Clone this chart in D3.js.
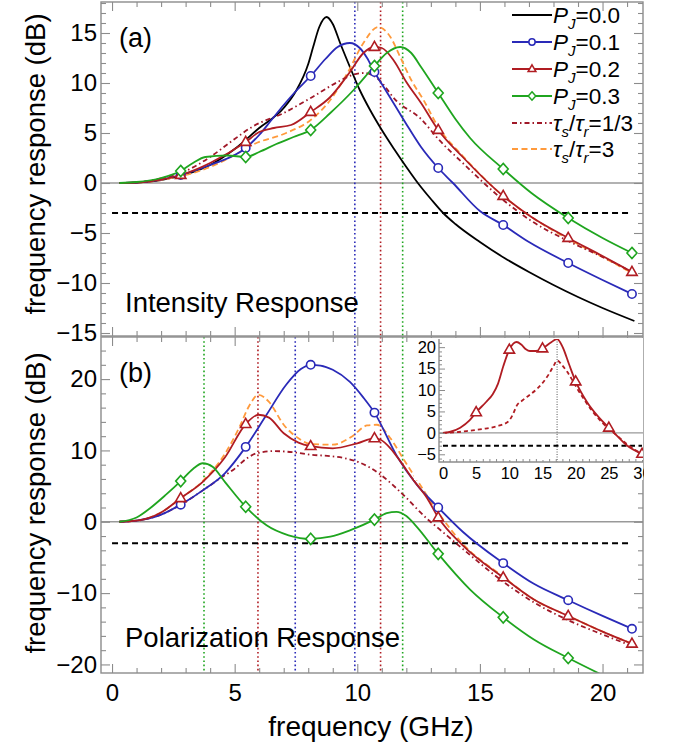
<!DOCTYPE html>
<html><head><meta charset="utf-8">
<script src="https://cdn.jsdelivr.net/npm/d3@7"></script>
<style>body{margin:0;background:#fff;} svg{display:block;}</style>
</head><body><svg id="c" width="673" height="746"></svg>
<script>
// ---------------- DATA ----------------
// (a) Intensity response, [frequency GHz, dB]
const intP00 = [[0.3,0],[1,0.05],[2,0.3],[3,0.85],[4,1.8],[5,3.4],[6,5.5],[7,7.5],[7.5,9.2],[8,11.9],[8.2,13.6],[8.45,15.6],[8.75,16.6],[9.0,15.9],[9.3,14.0],[9.7,11.6],[10.1,9.3],[10.5,7.4],[11,5.3],[11.5,3.4],[12,1.6],[12.5,-0.1],[13,-1.6],[13.5,-3.0],[14,-4.1],[15,-5.9],[16,-7.5],[17,-8.9],[18,-10.2],[19,-11.4],[20,-12.5],[21.3,-13.8]];
const intP01 = [[0.3,0],[1,0.05],[2,0.35],[2.8,0.8],[4,1.8],[5.45,3.5],[6,4.8],[6.5,6.3],[7,7.8],[7.5,9.2],[8.1,10.7],[8.7,12.4],[9.2,13.6],[9.7,14.0],[10.1,13.5],[10.4,12.5],[10.7,11.1],[11.1,9.5],[11.6,7.5],[12.1,5.5],[12.6,3.6],[13.3,1.5],[13.9,0],[15,-2.8],[15.95,-4.2],[17,-5.9],[18.6,-8.0],[20,-9.7],[21.2,-11.1]];
const intP02 = [[0.3,0],[1,0.05],[2,0.35],[2.8,0.8],[4,2.0],[5.45,4.1],[6,5.1],[6.6,5.5],[7.3,5.8],[8.1,7.1],[8.9,8.6],[9.7,11.1],[10.25,13.0],[10.7,13.6],[11.0,13.5],[11.5,12.2],[12.0,10.1],[12.6,8.0],[13.3,5.3],[14.3,2.6],[15.95,-1.3],[17.1,-3.4],[18.6,-5.5],[20,-7.3],[21.2,-8.9]];
const intP03 = [[0.3,0],[1,0.1],[2,0.5],[2.8,1.2],[3.3,2.0],[3.8,2.6],[4.7,2.75],[5.45,2.6],[6.0,3.1],[6.7,3.9],[7.4,4.6],[8.1,5.3],[8.9,7.0],[9.85,9.3],[10.7,11.7],[11.2,13.0],[11.75,13.6],[12.2,13.0],[12.6,11.6],[13.3,9.0],[14.0,6.4],[14.6,4.5],[15.95,1.4],[17.1,-1.0],[18.6,-3.5],[20,-5.5],[21.2,-7.0]];
const intTau13 = [[0.3,0],[1,0.06],[2,0.45],[3,1.2],[4,2.6],[5,4.4],[5.7,5.6],[7,7.0],[8.1,8.5],[9.2,10.1],[9.8,10.8],[10.3,11.0],[10.8,10.5],[11.6,8.2],[12.6,6.4],[13.3,4.4],[14.3,2.0],[15.95,-1.7],[17.1,-3.8],[18.6,-5.8],[20,-7.4],[21.2,-8.9]];
const intTau3 = [[0.3,0],[1,0.04],[2,0.3],[3,0.8],[4,1.6],[5,2.8],[5.8,3.9],[7.1,5.0],[8.1,6.3],[8.9,8.3],[9.6,11],[10.25,14],[10.85,15.6],[11.35,14.6],[11.75,12.6],[12.2,10.3],[12.7,8.3],[13.3,5.6],[14.3,2.7],[15.95,-1.3],[17.1,-3.4],[18.6,-5.6],[20,-7.4],[21.2,-9.0]];
const intMarkers = [2.8,5.45,8.1,10.7,13.3,15.95,18.6,21.2];
const intVLines = [[9.9,"blue"],[10.95,"red"],[11.85,"green"]];

// (b) Polarization response, [frequency GHz, dB]
const polP01 = [[0.3,0],[1,0.15],[2,1.0],[2.8,2.4],[3.7,4.4],[4.6,6.8],[5.45,10.5],[6.3,15.0],[7.1,19.2],[7.7,21.4],[8.1,22.0],[8.5,21.9],[9.0,21.3],[9.7,19.6],[10.25,17.4],[10.7,15.3],[11.6,9.3],[12.45,5.1],[13.3,2.0],[14.3,-1.4],[15.95,-5.8],[17.2,-8.7],[18.6,-11.0],[20,-13.2],[21.2,-15.0]];
const polP02 = [[0.3,0],[1,0.15],[2,1.3],[2.8,3.3],[3.7,5.6],[4.6,9.0],[5.45,13.7],[5.97,15.0],[6.4,14.6],[7,12.4],[7.6,11.1],[8.1,10.6],[9.0,10.3],[10.0,11.0],[10.7,11.7],[10.95,11.5],[11.35,10.3],[11.75,8.5],[12.3,5.8],[12.85,3.3],[13.3,0.6],[14.3,-3.3],[15.95,-7.8],[17.2,-10.9],[18.6,-13.2],[20,-15.4],[21.2,-17.1]];
const polP03 = [[0.3,0],[1,0.6],[1.55,1.9],[2.2,3.8],[2.8,5.7],[3.3,7.4],[3.7,8.2],[4.1,7.7],[4.6,5.6],[5.45,2.1],[6.3,-0.5],[7.2,-1.9],[8.1,-2.4],[8.9,-2.1],[9.7,-1.2],[10.7,0.3],[11.2,1.2],[11.6,1.4],[12.0,0.8],[12.4,-0.6],[13.3,-4.5],[14.6,-9.5],[15.95,-13.4],[17.2,-16.5],[18.6,-19.1],[20,-21.5],[20.6,-22.5]];
const polTau13 = [[0.3,0],[1,0.15],[2,1.0],[2.8,2.4],[3.7,4.4],[4.5,6.3],[4.95,7.3],[5.5,8.9],[5.9,9.6],[6.6,9.9],[7.5,9.7],[8.1,9.4],[8.9,9.2],[9.5,8.9],[10.1,8.3],[10.95,6.6],[11.75,4.2],[12.85,0.4],[13.3,-0.9],[14.3,-3.8],[15.95,-8.4],[17.2,-11.3],[18.6,-13.8],[20,-15.8],[21.2,-17.4]];
const polTau3 = [[0.3,0],[1,0.15],[2,1.3],[2.8,3.3],[3.7,5.7],[4.6,9.5],[5.2,13.3],[5.6,16.3],[5.97,17.8],[6.4,16.8],[7,13.6],[7.6,11.7],[8.1,10.9],[9.0,10.8],[9.8,12.0],[10.4,13.5],[10.8,13.6],[11.35,11.7],[11.9,8.7],[12.5,5.5],[13.3,1.3],[14.3,-3.1],[15.95,-7.7],[17.2,-10.9],[18.6,-13.2],[20,-15.4],[21.2,-17.1]];
const polMarkers = [2.8,5.45,8.1,10.7,13.3,15.95,18.6,21.2];
const polVLines = [[3.75,"green"],[5.95,"red"],[7.47,"blue"],[9.9,"blue"],[10.95,"red"],[11.85,"green"]];

// inset (frequency, dB)
const insetSolid = [[0,0],[1,0.2],[2.6,1.2],[4,2.9],[5,4.8],[6.5,7.2],[7.5,9.0],[8.3,11.5],[9.1,15.6],[10,19.4],[10.6,20.8],[11.1,21.2],[11.8,20.6],[12.5,19.5],[13.1,19.1],[14,19.1],[15,19.7],[16.2,21.0],[17.2,21.9],[18.1,19.8],[19.0,16.0],[20,12.0],[21.7,7.2],[23.5,3.6],[25,1.2],[26.5,-1.1],[27.7,-2.9],[30,-4.9]];
const insetDashed = [[0,0],[2,0.15],[4,0.5],[6,0.9],[8,1.5],[9.8,2.6],[10.5,4.2],[11.1,6.3],[12,7.6],[13.1,8.9],[14.2,10.3],[15.1,11.8],[16,13.8],[16.7,15.7],[17.2,16.9],[18,15.7],[18.7,14.3],[19.5,12.3],[20.2,10.4],[21.4,7.5],[22.6,4.9],[24,2.4],[25.6,0.2],[26.5,-1.0],[27.7,-2.6],[30,-4.9]];
const insetMarkers = [5,10,15,20,25,30];
const insetVLine = 17.2;

const threeDB = -3;
const legendLabels = [["P","J","=0.0"],["P","J","=0.1"],["P","J","=0.2"],["P","J","=0.3"],["τ","s","/","τ","r","=1/3"],["τ","s","/","τ","r","=3"]];

// ---------------- STYLE ----------------
const FONT = '"Liberation Sans", Arial, Helvetica, sans-serif';
const COL = {black:"#000000", blue:"#2a2ab8", red:"#b01c22", green:"#1fa51f", orange:"#ff9a3c", dd:"#a01828", frame:"#8c8c8c"};
const svg = d3.select("#c").attr("font-family", FONT);
const L = 101, R = 643;
const x = d3.scaleLinear().domain([-0.45, 21.65]).range([L, R]);
const yTop = d3.scaleLinear().domain([-15.3, 18.1]).range([336, 2]);
const yBot = d3.scaleLinear().domain([-21.2, 25.9]).range([673, 337]);

const seriesStyle = {
  P00:{color:COL.black, dash:null, marker:null},
  P01:{color:COL.blue, dash:null, marker:"circle"},
  P02:{color:COL.red, dash:null, marker:"triangle"},
  P03:{color:COL.green, dash:null, marker:"diamond"},
  T13:{color:COL.dd, dash:"5,3,1.5,3", marker:null},
  T3:{color:COL.orange, dash:"6,3.5", marker:null}
};

function markerPath(type, s){
  s = s || 1;
  if(type==="circle") return d3.symbol().type(d3.symbolCircle).size(55*s*s)();
  if(type==="triangle") return `M0,${-5.6*s}L${5.2*s},${3.4*s}L${-5.2*s},${3.4*s}Z`;
  if(type==="diamond") return `M0,${-5.6*s}L${5*s},0L0,${5.6*s}L${-5*s},0Z`;
  return null;
}

function panel(name, yS, y0, y1, series, markers, vlines, yMaj, yMin, showX){
  const cid = "clip"+name;
  svg.append("clipPath").attr("id",cid).append("rect").attr("x",L).attr("y",y0).attr("width",R-L).attr("height",y1-y0);
  const g = svg.append("g").attr("clip-path",`url(#${cid})`);
  g.append("line").attr("x1",L).attr("x2",R).attr("y1",yS(0)).attr("y2",yS(0)).attr("stroke","#999").attr("stroke-width",1.4);
  vlines.forEach(([f,c])=>{
    g.append("line").attr("x1",x(f)).attr("x2",x(f)).attr("y1",y0).attr("y2",y1)
      .attr("stroke",COL[c]).attr("stroke-width",1.6).attr("stroke-dasharray","1.6,2.6");
  });
  g.append("line").attr("x1",x(0)).attr("x2",x(21.2)).attr("y1",yS(threeDB)).attr("y2",yS(threeDB))
    .attr("stroke","#000").attr("stroke-width",2).attr("stroke-dasharray","6,4");
  const line = d3.line().x(d=>x(d[0])).y(d=>yS(d[1])).curve(d3.curveMonotoneX);
  series.forEach(([key,data])=>{
    const st = seriesStyle[key];
    g.append("path").datum(data).attr("d",line).attr("fill","none").attr("stroke",st.color)
      .attr("stroke-width",1.8).attr("stroke-dasharray",st.dash);
  });
  series.forEach(([key,data])=>{
    const st = seriesStyle[key];
    if(!st.marker) return;
    data.filter(d=>markers.includes(d[0])).forEach(d=>{
      g.append("path").attr("d",markerPath(st.marker)).attr("transform",`translate(${x(d[0])},${yS(d[1])})`)
        .attr("fill","#fff").attr("stroke",st.color).attr("stroke-width",1.6);
    });
  });
  const styleAx = s=>{ s.select(".domain").remove(); s.selectAll("line").attr("stroke",COL.frame).attr("stroke-width",1.1);
    s.selectAll("text").attr("font-size",24).attr("fill","#000").attr("font-family",FONT); s.attr("font-family",null).attr("font-size",null); };
  const fmt = d3.format("d");
  svg.append("g").attr("transform",`translate(${L},0)`).call(d3.axisLeft(yS).tickValues(yMaj).tickSize(-9).tickPadding(4).tickFormat(fmt)).call(styleAx);
  svg.append("g").attr("transform",`translate(${L},0)`).call(d3.axisLeft(yS).tickValues(yMin).tickSize(-5).tickFormat("")).call(styleAx);
  svg.append("g").attr("transform",`translate(${R},0)`).call(d3.axisRight(yS).tickValues(yMaj).tickSize(-9).tickFormat("")).call(styleAx);
  svg.append("g").attr("transform",`translate(${R},0)`).call(d3.axisRight(yS).tickValues(yMin).tickSize(-5).tickFormat("")).call(styleAx);
  const xMaj = [0,5,10,15,20], xMin = d3.range(0,22,1).filter(v=>v%5!==0);
  svg.append("g").attr("transform",`translate(0,${y1})`).call(d3.axisBottom(x).tickValues(xMaj).tickSize(-9).tickPadding(11).tickFormat(showX?fmt:"")).call(styleAx);
  svg.append("g").attr("transform",`translate(0,${y1})`).call(d3.axisBottom(x).tickValues(xMin).tickSize(-5).tickFormat("")).call(styleAx);
  svg.append("g").attr("transform",`translate(0,${y0})`).call(d3.axisTop(x).tickValues(xMaj).tickSize(-9).tickFormat("")).call(styleAx);
  svg.append("g").attr("transform",`translate(0,${y0})`).call(d3.axisTop(x).tickValues(xMin).tickSize(-5).tickFormat("")).call(styleAx);
  svg.append("rect").attr("x",L).attr("y",y0).attr("width",R-L).attr("height",y1-y0).attr("fill","none").attr("stroke",COL.frame).attr("stroke-width",1.4);
}

panel("a", yTop, 2, 336,
  [["P00",intP00],["T3",intTau3],["T13",intTau13],["P01",intP01],["P02",intP02],["P03",intP03]],
  intMarkers, intVLines, [-15,-10,-5,0,5,10,15], d3.range(-15,19,1).filter(v=>v%5!==0), false);
panel("b", yBot, 337, 673,
  [["T3",polTau3],["T13",polTau13],["P01",polP01],["P02",polP02],["P03",polP03]],
  polMarkers, polVLines, [-20,-10,0,10,20], d3.range(-20,26,2).filter(v=>v%10!==0), true);

// ---------------- INSET ----------------
const ix = d3.scaleLinear().domain([-0.6, 30.3]).range([439, 644]);
const iy = d3.scaleLinear().domain([-6.8, 21.9]).range([462, 339]);
svg.append("rect").attr("x",414).attr("y",338).attr("width",229).attr("height",142).attr("fill","#fff");
svg.append("clipPath").attr("id","clipI").append("rect").attr("x",439).attr("y",339).attr("width",204).attr("height",123);
const gi = svg.append("g").attr("clip-path","url(#clipI)");
gi.append("line").attr("x1",439).attr("x2",643).attr("y1",iy(0)).attr("y2",iy(0)).attr("stroke","#999").attr("stroke-width",1.4);
gi.append("line").attr("x1",ix(insetVLine)).attr("x2",ix(insetVLine)).attr("y1",339).attr("y2",462).attr("stroke","#555").attr("stroke-width",1).attr("stroke-dasharray","1,1.5");
gi.append("line").attr("x1",ix(0)).attr("x2",ix(30)).attr("y1",iy(threeDB)).attr("y2",iy(threeDB)).attr("stroke","#000").attr("stroke-width",2).attr("stroke-dasharray","5,3.5");
const iline = d3.line().x(d=>ix(d[0])).y(d=>iy(d[1])).curve(d3.curveMonotoneX);
gi.append("path").datum(insetDashed).attr("d",iline).attr("fill","none").attr("stroke",COL.red).attr("stroke-width",1.8).attr("stroke-dasharray","4,3");
gi.append("path").datum(insetSolid).attr("d",iline).attr("fill","none").attr("stroke",COL.red).attr("stroke-width",1.8);
insetSolid.filter(d=>insetMarkers.includes(d[0])).forEach(d=>{
  gi.append("path").attr("d",markerPath("triangle")).attr("transform",`translate(${ix(d[0])},${iy(d[1])})`)
    .attr("fill","#fff").attr("stroke",COL.red).attr("stroke-width",1.6);
});
const styleIn = s=>{ s.select(".domain").remove(); s.selectAll("line").attr("stroke",COL.frame).attr("stroke-width",1);
  s.selectAll("text").attr("font-size",16.5).attr("fill","#000").attr("font-family",FONT); s.attr("font-family",null).attr("font-size",null); };
const fmtI = d3.format("d");
svg.append("g").attr("transform","translate(439,0)").call(d3.axisLeft(iy).tickValues([-5,0,5,10,15,20]).tickSize(-6).tickPadding(3).tickFormat(fmtI)).call(styleIn);
svg.append("g").attr("transform","translate(439,0)").call(d3.axisLeft(iy).tickValues(d3.range(-6,22,1).filter(v=>v%5!==0)).tickSize(-3).tickFormat("")).call(styleIn);
svg.append("clipPath").attr("id","clipIX").append("rect").attr("x",400).attr("y",-2).attr("width",244).attr("height",40);
const ixAxis = svg.append("g").attr("transform","translate(0,462)").attr("clip-path","url(#clipIX)");
ixAxis.call(d3.axisBottom(ix).tickValues([0,5,10,15,20,25,30]).tickSize(-6).tickPadding(5).tickFormat(fmtI)).call(styleIn);
svg.append("g").attr("transform","translate(0,462)").call(d3.axisBottom(ix).tickValues(d3.range(0,31,1).filter(v=>v%5!==0)).tickSize(-3).tickFormat("")).call(styleIn);
svg.append("path").attr("d","M439,339V462H643").attr("fill","none").attr("stroke",COL.frame).attr("stroke-width",1.4);

// ---------------- TEXT ----------------
svg.append("text").attr("x",119).attr("y",47).attr("font-size",27).text("(a)");
svg.append("text").attr("x",119).attr("y",382).attr("font-size",27).text("(b)");
svg.append("text").attr("x",125).attr("y",312).attr("font-size",27.5).text("Intensity Response");
svg.append("text").attr("x",125).attr("y",647).attr("font-size",27.5).text("Polarization Response");
svg.append("text").attr("x",371).attr("y",736).attr("font-size",28).attr("text-anchor","middle").text("frequency (GHz)");
[[164],[503]].forEach(([cy])=>{
  svg.append("text").attr("transform",`translate(45,${cy}) rotate(-90)`).attr("font-size",27.5).attr("text-anchor","middle").text("frequency response (dB)");
});

// ---------------- LEGEND ----------------
const legKeys = ["P00","P01","P02","P03","T13","T3"];
const legY = [15,42,69,96,123,149];
legKeys.forEach((k,i)=>{
  const st = seriesStyle[k], cy = legY[i];
  svg.append("line").attr("x1",512).attr("x2",552).attr("y1",cy).attr("y2",cy).attr("stroke",st.color).attr("stroke-width",1.8).attr("stroke-dasharray",st.dash);
  if(st.marker) svg.append("path").attr("d",markerPath(st.marker,0.75)).attr("transform",`translate(532,${cy})`).attr("fill","#fff").attr("stroke",st.color).attr("stroke-width",1.5);
  const t = svg.append("text").attr("x",553).attr("y",cy+8).attr("font-size",22.5);
  const parts = legendLabels[i];
  if(parts[0]==="P"){
    t.append("tspan").attr("font-style","italic").text("P");
    t.append("tspan").attr("font-style","italic").attr("font-size",15).attr("dy",6).text("J");
    t.append("tspan").attr("dy",-6).text(parts[2]);
  } else {
    t.append("tspan").attr("font-style","italic").text("τ");
    t.append("tspan").attr("font-style","italic").attr("font-size",15).attr("dy",6).text("s");
    t.append("tspan").attr("dy",-6).text("/");
    t.append("tspan").attr("font-style","italic").text("τ");
    t.append("tspan").attr("font-style","italic").attr("font-size",15).attr("dy",6).text("r");
    t.append("tspan").attr("dy",-6).text(parts[5]);
  }
});
</script></body></html>
